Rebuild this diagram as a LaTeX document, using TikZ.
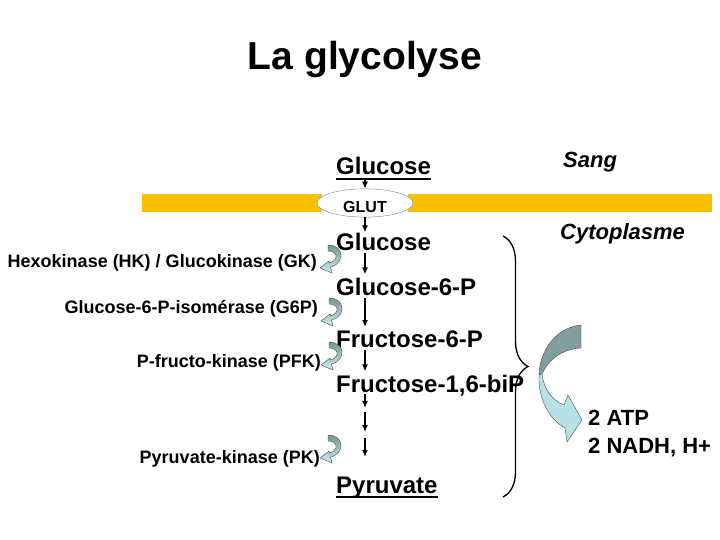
\documentclass[tikz,border=0pt]{standalone}
\usepackage{fontspec}
\setmainfont{Liberation Sans}
\usepackage{tikz}
\usetikzlibrary{arrows.meta, shapes.geometric, calc, decorations.pathreplacing}

\definecolor{membrane}{RGB}{250,192,0}
\definecolor{glutblue}{RGB}{80,140,190}
\definecolor{turngray}{RGB}{118,148,150}
\definecolor{turnblue}{RGB}{205,238,242}
\definecolor{bandgray}{RGB}{128,158,160}
\definecolor{bandblue}{RGB}{182,225,230}

\tikzset{
  pics/turn/.style={code={
    \draw[draw=black!70, line width=0.4pt, top color=turngray, bottom color=turnblue]
      (0,0) .. controls (16,0) and (18,18) .. (2.5,22) -- (4,28) -- (-8,23) -- (1,16)
      -- (1.5,18) .. controls (11,15) and (10,6) .. (0,6) -- cycle;
  }}
}

\begin{document}
\begin{tikzpicture}[x=1pt, y=-1pt,
  met/.style={font=\fontsize{24}{28}\selectfont\bfseries, anchor=base west, inner sep=0pt},
  enz/.style={font=\fontsize{18}{22}\selectfont\bfseries, anchor=base east, inner sep=0pt},
  loc/.style={font=\fontsize{22}{26}\selectfont\bfseries\itshape, anchor=base west, inner sep=0pt},
  yield/.style={font=\fontsize{22}{26}\selectfont\bfseries, anchor=base west, inner sep=0pt},
  flux/.style={-{Latex[length=7pt,width=6pt]}, line width=1.7pt}]
\useasboundingbox (0,0) rectangle (720,540);

% Title
\node[font=\fontsize{39}{44}\selectfont\bfseries, anchor=base] (title) at (365,70) {La glycolyse};

% Membrane with the transporter
\fill[membrane] (142,194) rectangle (322,212);
\fill[membrane] (408,194) rectangle (712,212);
\node[ellipse, draw=glutblue, fill=white, minimum width=96pt, minimum height=28pt, inner sep=0pt,
  text height=20pt, text depth=0pt, font=\fontsize{16}{18}\selectfont\bfseries] (glut) at (365,203) {GLUT};

% Compartments
\node[loc] (sang) at (563,168) {Sang};
\node[loc] (cyto) at (560,240) {Cytoplasme};

% Metabolites
\node[met] (glcout) at (336,175) {Glucose};
\node[met] (glcin) at (336,250) {Glucose};
\node[met] (g6p) at (336,295) {Glucose-6-P};
\node[met] (f6p) at (336,347) {Fructose-6-P};
\node[met] (f16bp) at (336,392) {Fructose-1,6-biP};
\node[met] (pyr) at (336,493) {Pyruvate};
\draw[line width=1.5pt] ([yshift=-4pt]glcout.base west) -- ([yshift=-4pt]glcout.base east);
\draw[line width=1.5pt] ([yshift=-4pt]pyr.base west) -- ([yshift=-4pt]pyr.base east);

% Enzymes
\node[enz] (hk) at (317,267) {Hexokinase (HK) / Glucokinase (GK)};
\node[enz] (gpi) at (318,313) {Glucose-6-P-isomérase (G6P)};
\node[enz] (pfk) at (321,367) {P-fructo-kinase (PFK)};
\node[enz] (pk) at (320,463) {Pyruvate-kinase (PK)};
\foreach \x/\y in {328/245, 329/298, 329/342, 328/435}
  \pic at (\x,\y) {turn};

% Flux
\draw[flux, shorten <=4pt] (glut |- glcout.south) -- (glut.north);
\draw[flux] (glut.south) -- (glut |- glcin.north);
\draw[flux, shorten <=3pt, shorten >=3pt] (glut |- glcin.south) -- (glut |- g6p.north);
\draw[flux, shorten <=3pt, shorten >=3pt] (glut |- g6p.south) -- (glut |- f6p.north);
\draw[flux, shorten <=3pt, shorten >=3pt] (glut |- f6p.south) -- (glut |- f16bp.north);
\foreach \a/\b in {-0.03/0.15, 0.2/0.45, 0.52/0.76}
  \draw[flux] ($(glut |- f16bp.south)!\a!(glut |- pyr.north)$) -- ($(glut |- f16bp.south)!\b!(glut |- pyr.north)$);

% Brace and yield
\draw[line width=1.3pt, decorate, decoration={brace, amplitude=25pt}] (503,236) -- (503,497);
\fill[bandgray, draw=black!70, line width=0.4pt]
  (581,325) .. controls (558,327) and (540,348) .. (539,375) -- (542,374)
  .. controls (548,360) and (562,349) .. (581,348) -- cycle;
\fill[bandblue, draw=black!70, line width=0.4pt]
  (539,375) .. controls (538,400) and (550,420) .. (565,428) -- (567,442) -- (582,420)
  -- (568,395) -- (564,405) .. controls (552,400) and (544,390) .. (542,374) -- cycle;
\node[yield] (atp) at (588,425) {2 ATP};
\node[yield] (nadh) at (588,453) {2 NADH, H+};
\end{tikzpicture}
\end{document}
